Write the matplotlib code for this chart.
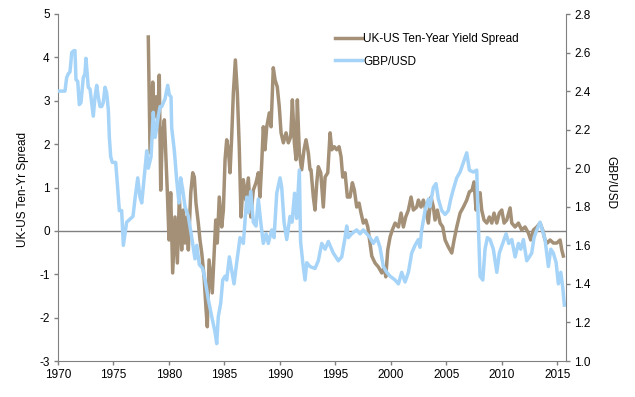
""" UK-US ten-year yield spread vs GBP/USD, 1970-2015 """
from matplotlib import pyplot as plt
import numpy as np

COLOR_SPREAD = "#a39077"
COLOR_GBP = "#a5d4f8"
COLOR_AXIS = "#808080"

# UK-US ten-year yield spread (left axis, %)
spread_years = [
    1978.14, 1978.30, 1978.54, 1978.68, 1978.84, 1978.99, 1979.13, 1979.26, 1979.40, 1979.59,
    1979.74, 1979.86, 1980.01, 1980.16, 1980.34, 1980.55, 1980.76, 1980.94, 1981.15, 1981.30,
    1981.45, 1981.60, 1981.75, 1981.97, 1982.15, 1982.29, 1982.44, 1982.65, 1982.80, 1982.96,
    1983.17, 1983.35, 1983.46, 1983.62, 1983.77, 1983.91, 1984.09, 1984.22, 1984.36, 1984.54,
    1984.76, 1984.91, 1985.06, 1985.21, 1985.36, 1985.51, 1985.66, 1985.81, 1985.99, 1986.17,
    1986.35, 1986.50, 1986.71, 1986.93, 1987.16, 1987.38, 1987.61, 1987.85, 1988.06, 1988.21,
    1988.37, 1988.51, 1988.66, 1988.82, 1989.05, 1989.21, 1989.41, 1989.57, 1989.77, 1989.95,
    1990.11, 1990.32, 1990.56, 1990.77, 1990.98, 1991.13, 1991.31, 1991.46, 1991.58, 1991.76,
    1991.97, 1992.18, 1992.36, 1992.57, 1992.72, 1992.81, 1993.02, 1993.17, 1993.33, 1993.47,
    1993.69, 1993.92, 1994.08, 1994.32, 1994.53, 1994.68, 1994.91, 1995.13, 1995.34, 1995.52,
    1995.67, 1995.88, 1996.09, 1996.33, 1996.54, 1996.72, 1996.93, 1997.14, 1997.32, 1997.53,
    1997.75, 1997.93, 1998.13, 1998.29, 1998.58, 1998.88, 1999.19, 1999.42, 1999.55, 1999.73,
    1999.94, 2000.14, 2000.39, 2000.69, 2000.93, 2001.14, 2001.35, 2001.59, 2001.83, 2002.04,
    2002.34, 2002.49, 2002.73, 2002.94, 2003.16, 2003.39, 2003.63, 2003.84, 2003.99, 2004.20,
    2004.45, 2004.69, 2004.90, 2005.19, 2005.50, 2005.71, 2005.95, 2006.25, 2006.55, 2006.85,
    2007.09, 2007.33, 2007.51, 2007.69, 2007.90, 2008.05, 2008.20, 2008.41, 2008.66, 2008.89,
    2009.11, 2009.31, 2009.56, 2009.79, 2010.01, 2010.22, 2010.46, 2010.76, 2010.91, 2011.21,
    2011.51, 2011.81, 2012.11, 2012.41, 2012.62, 2012.86, 2013.17, 2013.46, 2013.70, 2013.91,
    2014.12, 2014.36, 2014.66, 2014.97, 2015.27, 2015.42, 2015.56,
]
spread_values = [
    4.47, 1.80, 3.43, 2.63, 3.09, 2.56, 3.59, 0.94, 2.17, 2.56,
    1.64, 0.88, -0.21, 0.88, -0.97, 0.32, -0.74, 0.78, -0.44, 0.48,
    -0.28, 0.32, -0.44, 0.88, 1.34, 1.24, 0.64, 0.18, -0.21, -0.51,
    -1.06, -1.82, -2.21, -0.67, -1.06, -1.43, -0.44, 0.25, -0.28, 0.78,
    0.09, 0.48, 1.64, 2.10, 1.87, 1.34, 2.17, 3.18, 3.94, 3.18,
    1.87, 0.32, 1.18, 0.71, 1.22, 0.32, 0.94, 1.11, 1.34, 0.78,
    1.57, 2.40, 1.87, 2.40, 2.72, 2.40, 3.76, 3.48, 3.32, 2.86,
    2.26, 2.03, 2.26, 2.03, 2.17, 3.02, 2.03, 1.64, 3.02, 1.80,
    1.41, 1.87, 2.10, 1.80, 1.41, 1.41, 0.78, 0.48, 1.11, 1.48,
    1.34, 0.55, 1.24, 1.34, 2.26, 1.87, 1.94, 1.87, 1.94, 1.71,
    1.24, 1.34, 0.78, 0.78, 1.11, 0.94, 0.55, 0.64, 0.41, 0.18,
    0.25, 0.09, -0.28, -0.58, -0.74, -0.83, -0.97, -0.83, -1.06, -0.44,
    -0.14, 0.02, 0.18, 0.09, 0.41, 0.09, 0.32, 0.48, 0.78, 0.48,
    0.55, 0.71, 0.55, 0.71, 0.48, 0.18, 0.78, 0.55, 0.25, 0.48,
    0.18, 0.09, -0.21, -0.37, -0.51, -0.21, 0.09, 0.41, 0.55, 0.71,
    0.90, 0.94, 1.13, 0.48, 0.78, 0.88, 0.48, 0.25, 0.18, 0.32,
    0.18, 0.41, 0.18, 0.41, 0.48, 0.18, 0.25, 0.53, 0.18, 0.09,
    0.18, 0.02, 0.09, -0.05, -0.21, 0.02, 0.09, 0.18, 0.02, -0.21,
    -0.28, -0.21, -0.28, -0.28, -0.21, -0.44, -0.58,
]

# GBP/USD exchange rate (right axis)
gbp_years = [
    1970.03, 1970.63, 1970.78, 1970.93, 1971.08, 1971.24, 1971.44, 1971.53, 1971.62, 1971.78,
    1971.92, 1972.07, 1972.28, 1972.43, 1972.52, 1972.64, 1972.73, 1972.89, 1973.04, 1973.18,
    1973.34, 1973.49, 1973.63, 1973.79, 1973.94, 1974.08, 1974.24, 1974.39, 1974.54, 1974.63,
    1974.75, 1974.90, 1975.05, 1975.20, 1975.35, 1975.53, 1975.74, 1975.89, 1976.19, 1976.76,
    1976.94, 1977.19, 1977.39, 1977.55, 1977.75, 1978.00, 1978.14, 1978.39, 1978.59, 1978.75,
    1978.90, 1979.04, 1979.20, 1979.36, 1979.65, 1979.89, 1980.04, 1980.19, 1980.25, 1980.49,
    1980.70, 1980.91, 1981.06, 1981.24, 1981.45, 1981.75, 1982.06, 1982.35, 1982.51, 1982.74,
    1983.05, 1983.26, 1983.55, 1983.86, 1984.16, 1984.31, 1984.45, 1984.67, 1984.85, 1985.06,
    1985.21, 1985.45, 1985.66, 1985.87, 1986.11, 1986.41, 1986.71, 1987.02, 1987.16, 1987.38,
    1987.61, 1987.85, 1988.06, 1988.28, 1988.51, 1988.76, 1988.96, 1989.27, 1989.48, 1989.72,
    1990.02, 1990.17, 1990.38, 1990.62, 1990.92, 1991.10, 1991.33, 1991.51, 1991.76, 1991.87,
    1992.07, 1992.27, 1992.43, 1992.72, 1993.17, 1993.47, 1993.78, 1994.08, 1994.37, 1994.82,
    1995.27, 1995.58, 1995.88, 1996.03, 1996.18, 1996.48, 1996.93, 1997.23, 1997.53, 1997.84,
    1998.13, 1998.43, 1998.74, 1999.03, 1999.33, 1999.64, 1999.94, 2000.39, 2000.69, 2000.99,
    2001.29, 2001.59, 2001.89, 2002.19, 2002.49, 2002.64, 2002.79, 2003.09, 2003.39, 2003.54,
    2003.84, 2004.08, 2004.29, 2004.60, 2004.90, 2005.19, 2005.41, 2005.64, 2005.95, 2006.25,
    2006.55, 2006.85, 2007.09, 2007.45, 2007.75, 2007.90, 2008.05, 2008.30, 2008.50, 2008.71,
    2008.95, 2009.25, 2009.56, 2009.79, 2010.10, 2010.40, 2010.64, 2010.91, 2011.21, 2011.51,
    2011.72, 2011.96, 2012.26, 2012.50, 2012.71, 2012.92, 2013.17, 2013.46, 2013.67, 2013.91,
    2014.21, 2014.43, 2014.66, 2014.91, 2015.11, 2015.33, 2015.51, 2015.65,
]
gbp_values = [
    2.40, 2.40, 2.47, 2.49, 2.50, 2.60, 2.61, 2.61, 2.46, 2.45,
    2.33, 2.34, 2.47, 2.49, 2.57, 2.48, 2.42, 2.41, 2.34, 2.27,
    2.37, 2.43, 2.37, 2.32, 2.32, 2.34, 2.42, 2.39, 2.30, 2.16,
    2.06, 2.03, 2.03, 2.03, 1.92, 1.78, 1.78, 1.60, 1.72, 1.75,
    1.84, 1.95, 1.85, 1.82, 1.94, 2.09, 2.00, 2.06, 2.29, 2.16,
    2.21, 2.27, 2.32, 2.32, 2.36, 2.43, 2.38, 2.37, 2.21, 2.09,
    1.94, 1.82, 1.95, 1.89, 1.80, 1.75, 1.64, 1.53, 1.60, 1.50,
    1.48, 1.42, 1.32, 1.23, 1.15, 1.09, 1.23, 1.30, 1.42, 1.44,
    1.42, 1.54, 1.47, 1.40, 1.51, 1.64, 1.61, 1.85, 1.77, 1.88,
    1.72, 1.70, 1.84, 1.72, 1.61, 1.66, 1.61, 1.68, 1.64, 1.87,
    1.95, 1.90, 1.72, 1.63, 1.75, 1.72, 1.87, 1.74, 1.99, 1.62,
    1.51, 1.42, 1.51, 1.49, 1.48, 1.52, 1.61, 1.58, 1.62, 1.56,
    1.52, 1.54, 1.64, 1.70, 1.64, 1.66, 1.68, 1.66, 1.68, 1.66,
    1.64, 1.61, 1.64, 1.59, 1.49, 1.46, 1.44, 1.42, 1.40, 1.46,
    1.41, 1.46, 1.56, 1.60, 1.63, 1.59, 1.68, 1.78, 1.84, 1.80,
    1.90, 1.92, 1.84, 1.78, 1.76, 1.78, 1.84, 1.89, 1.95, 1.98,
    2.03, 2.08, 1.99, 1.98, 1.99, 1.70, 1.44, 1.42, 1.58, 1.64,
    1.63, 1.58, 1.46, 1.56, 1.61, 1.66, 1.61, 1.63, 1.54, 1.61,
    1.58, 1.63, 1.52, 1.54, 1.56, 1.64, 1.68, 1.72, 1.68, 1.63,
    1.49, 1.58, 1.56, 1.51, 1.40, 1.46, 1.38, 1.29,
]

x_ticks = list(range(1970, 2016, 5))
left_ticks = list(range(-3, 6))
right_ticks = [1.0, 1.2, 1.4, 1.6, 1.8, 2.0, 2.2, 2.4, 2.6, 2.8]

plt.rcParams["font.family"] = ["Liberation Sans", "DejaVu Sans"]
plt.rcParams["font.size"] = 8.5
plt.rcParams["axes.unicode_minus"] = False

fig = plt.figure(figsize=(6.35, 3.97), dpi=100)
ax = fig.add_axes([58 / 635, 1 - 361 / 397, 508 / 635, 347 / 397])
ax2 = ax.twinx()

ax.axhline(0, color=COLOR_AXIS, lw=1, zorder=1)
line_spread, = ax.plot(spread_years, spread_values, color=COLOR_SPREAD, lw=2.5, zorder=2)
line_gbp, = ax2.plot(gbp_years, gbp_values, color=COLOR_GBP, lw=2.5, zorder=2)

ax.set_xlim(1970, 2015.8)
ax.set_ylim(-3, 5)
ax2.set_ylim(1.0, 2.8)
ax.set_xticks(x_ticks)
ax.set_yticks(left_ticks)
ax2.set_yticks(right_ticks)
ax2.set_yticklabels([f"{v:.1f}" for v in right_ticks])

for a in (ax, ax2):
    a.spines["top"].set_visible(False)
    for s in ("left", "right", "bottom"):
        a.spines[s].set_color(COLOR_AXIS)
    a.tick_params(colors=COLOR_AXIS, labelcolor="black", length=3, width=1, pad=3)
ax.spines["right"].set_visible(False)
ax2.spines["left"].set_visible(False)
ax2.spines["bottom"].set_visible(False)

ax.set_ylabel("UK-US Ten-Yr Spread", va="center")
ax.yaxis.set_label_coords(-0.069, 0.493)
ax2.set_ylabel("GBP/USD", rotation=-90, va="center")
ax2.yaxis.set_label_coords(1.087, 0.515)

ax2.legend([line_spread, line_gbp], ["UK-US Ten-Year Yield Spread", "GBP/USD"],
           loc="upper left", bbox_to_anchor=(335 / 635, 1 - 33 / 397), bbox_transform=fig.transFigure,
           frameon=False, borderpad=0, borderaxespad=0, handlelength=2.3, handletextpad=0.1,
           labelspacing=0.9)

fig.savefig("out.png", dpi=100)
